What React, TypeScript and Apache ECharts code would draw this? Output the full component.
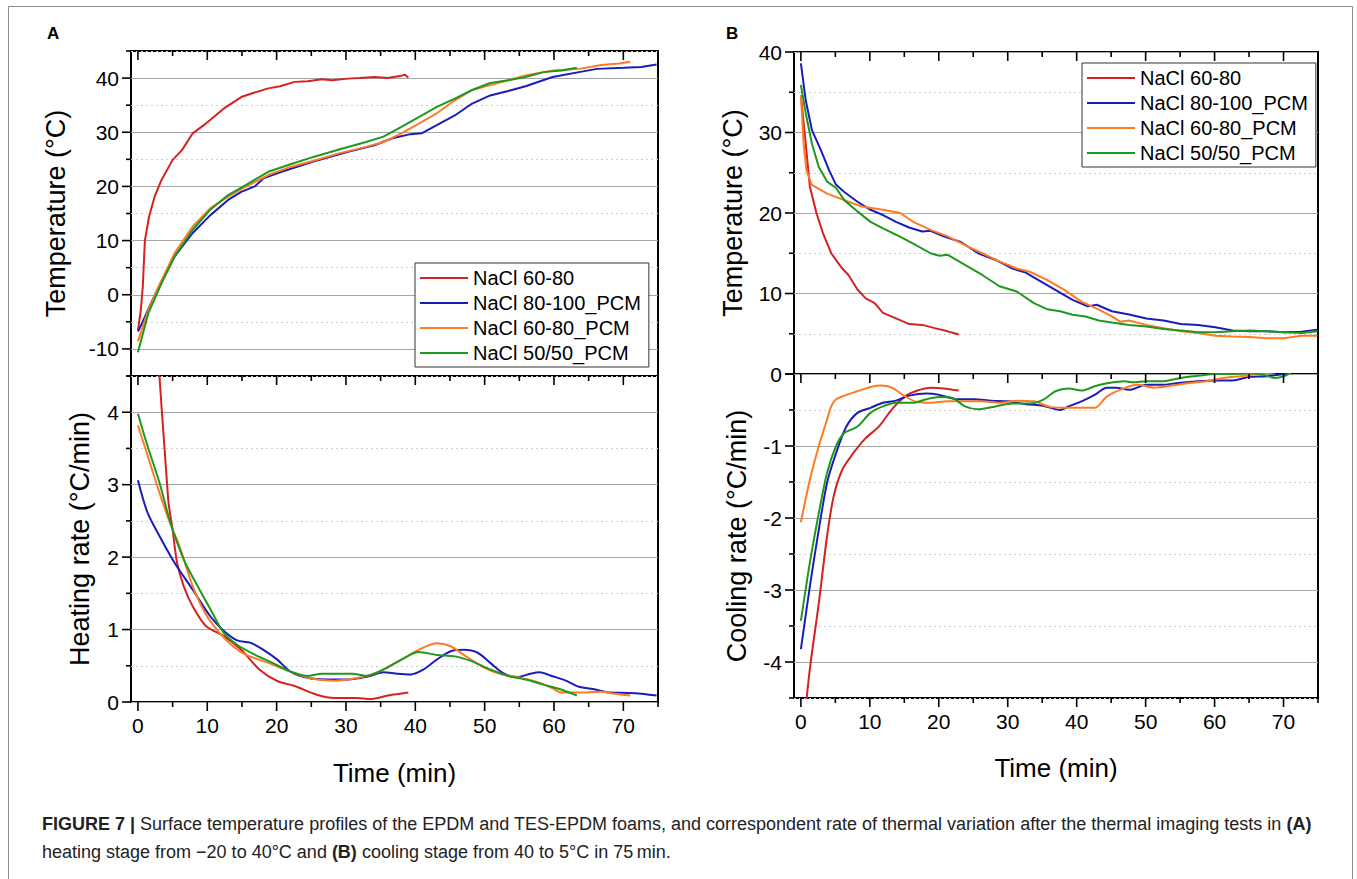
import React, { useEffect, useRef } from "react";
import * as echarts from "echarts";

const FONT = "Liberation Sans, Arial, Helvetica, sans-serif";

const NAMES = ["NaCl 60-80", "NaCl 80-100_PCM", "NaCl 60-80_PCM", "NaCl 50/50_PCM"];
const COLORS = ["#d42222", "#1c1cb8", "#ff7a22", "#1f981f"];

const X_MIN = -1;
const X_MAX = 75;
const X_TICKS = [0, 5, 10, 15, 20, 25, 30, 35, 40, 45, 50, 55, 60, 65, 70, 75];
const X_LABELS = [0, 10, 20, 30, 40, 50, 60, 70];

const A_TEMP_TICKS = [-15, -10, -5, 0, 5, 10, 15, 20, 25, 30, 35, 40, 45];
const A_RATE_TICKS = [0, 0.5, 1, 1.5, 2, 2.5, 3, 3.5, 4, 4.5];
const B_TEMP_TICKS = [0, 5, 10, 15, 20, 25, 30, 35, 40];
const B_RATE_TICKS = [-4.5, -4, -3.5, -3, -2.5, -2, -1.5, -1, -0.5, 0];

// Panel A – temperature (heating)
const A_TEMP_RED = [[0, -6.6], [0.4, -3], [0.7, 1.5], [1.0, 10], [1.6, 14.4], [2.4, 18.1], [3.4, 21.2], [5.0, 24.9], [6.35, 26.7], [7.9, 29.8], [9.8, 31.6], [12.4, 34.4], [14.9, 36.5], [16.5, 37.2], [18.8, 38.1], [20.5, 38.5], [22.6, 39.3], [24.5, 39.4], [26.5, 39.8], [28, 39.6], [30.3, 39.9], [32, 40.0], [34.1, 40.2], [36, 40.0], [38.0, 40.45], [38.5, 40.6], [39, 40.1]];
const A_TEMP_BLUE = [[0, -6.8], [0.5, -5.5], [1.8, -1.8], [3.4, 2.5], [5.3, 7.1], [7.9, 11.4], [10.45, 14.7], [13.0, 17.5], [14.9, 19.0], [16.85, 20.0], [18.1, 21.5], [20.7, 22.7], [25.2, 24.55], [30.3, 26.4], [34.1, 27.6], [36.7, 28.9], [39.3, 29.65], [40.9, 29.8], [43.1, 31.3], [45.7, 33.1], [48.2, 35.3], [50.8, 36.8], [53.4, 37.6], [55.9, 38.5], [59.8, 40.2], [63.6, 41.1], [66.2, 41.7], [70, 41.9], [72.6, 42.05], [74.8, 42.5]];
const A_TEMP_ORANGE = [[0, -8.6], [1.5, -2.8], [3.1, 1.8], [5.3, 7.7], [7.9, 12.6], [10.45, 16.0], [13, 18.1], [15.6, 20.0], [18.8, 22.1], [22, 23.6], [25.2, 24.7], [29, 26.1], [32.9, 27.3], [35.4, 28.2], [38, 29.8], [40.5, 31.6], [43.1, 33.5], [45.7, 35.9], [48.2, 37.8], [50.8, 38.7], [53.4, 39.6], [55.9, 40.5], [59.8, 41.4], [63.6, 41.7], [66.8, 42.4], [69.4, 42.7], [71, 43]];
const A_TEMP_GREEN = [[0, -10.6], [1.5, -3.4], [3.4, 2.1], [5.3, 7.1], [7.9, 12.0], [10.45, 15.7], [13, 18.4], [15.6, 20.3], [18.8, 22.7], [22, 24.1], [25.2, 25.4], [29, 26.8], [32.9, 28.2], [35.4, 29.2], [38, 31.0], [40.5, 32.8], [43.1, 34.7], [45.7, 36.2], [48.2, 37.8], [50.8, 39.1], [53.4, 39.6], [55.9, 40.2], [58.5, 41.1], [61.1, 41.4], [63.3, 41.9]];

// Panel A – heating rate
const A_RATE_RED = [[2.2, 5.8], [4.36, 2.8], [5.0, 2.38], [5.65, 1.92], [6.6, 1.6], [7.9, 1.32], [9.8, 1.05], [12.4, 0.91], [14.9, 0.72], [17.5, 0.45], [20.1, 0.29], [22.6, 0.22], [25.8, 0.10], [28.4, 0.055], [31.6, 0.055], [33.5, 0.04], [36.1, 0.09], [39, 0.13]];
const A_RATE_BLUE = [[0, 3.06], [1.4, 2.61], [3.4, 2.24], [5.3, 1.92], [7.9, 1.55], [10.45, 1.18], [12.4, 0.98], [14.3, 0.85], [16.2, 0.82], [18.1, 0.72], [20.1, 0.585], [22, 0.42], [24.6, 0.33], [27.2, 0.31], [30.3, 0.31], [33.5, 0.36], [35.4, 0.41], [37.4, 0.39], [39.3, 0.38], [41.2, 0.45], [43.1, 0.585], [45.1, 0.70], [47, 0.72], [49, 0.68], [50.8, 0.54], [52.8, 0.39], [54.7, 0.345], [56.6, 0.39], [57.9, 0.41], [59.8, 0.355], [61.7, 0.295], [63.6, 0.21], [65.6, 0.18], [68.1, 0.13], [70.7, 0.125], [72.6, 0.115], [74.8, 0.09]];
const A_RATE_ORANGE = [[0, 3.82], [1.4, 3.4], [3.1, 2.89], [4.7, 2.45], [6.0, 2.15], [7.9, 1.6], [9.8, 1.21], [11.8, 0.95], [13.7, 0.77], [15.6, 0.65], [18.8, 0.54], [22, 0.42], [25.2, 0.32], [28.4, 0.295], [31.6, 0.33], [34.8, 0.42], [38, 0.585], [40.5, 0.72], [43.1, 0.81], [45.1, 0.77], [47, 0.65], [49.6, 0.49], [52.2, 0.39], [54.7, 0.345], [57.3, 0.285], [59.8, 0.19], [61.1, 0.13], [63.6, 0.13], [66.8, 0.14], [68.7, 0.115], [71, 0.09]];
const A_RATE_GREEN = [[0, 3.98], [1.4, 3.53], [3.1, 3.03], [4.7, 2.47], [6.6, 1.97], [8.6, 1.6], [10.45, 1.28], [12.4, 0.95], [14.3, 0.79], [16.9, 0.65], [19.4, 0.54], [22, 0.42], [24.6, 0.36], [26.5, 0.39], [29, 0.39], [30.9, 0.39], [32.9, 0.36], [35.4, 0.45], [38, 0.585], [40.5, 0.69], [43.1, 0.65], [45.7, 0.63], [48.2, 0.56], [50.8, 0.45], [53.4, 0.36], [55.9, 0.31], [58.5, 0.24], [61.1, 0.17], [63.3, 0.09]];

// Panel B – temperature (cooling)
const B_TEMP_RED = [[0, 34.6], [0.7, 28.6], [1.3, 23.3], [2.25, 20.0], [3.2, 17.5], [4.4, 15.0], [6.0, 13.1], [6.9, 12.3], [8.2, 10.5], [9.4, 9.4], [10.7, 8.8], [11.9, 7.6], [13.8, 6.9], [15.7, 6.2], [17.6, 6.1], [19.4, 5.7], [21.3, 5.3], [22.9, 4.9]];
const B_TEMP_BLUE = [[0, 38.6], [0.7, 34.0], [1.6, 30.3], [2.9, 27.8], [4.1, 25.3], [5.1, 23.5], [6.3, 22.6], [8.2, 21.4], [10.1, 20.4], [11.9, 19.75], [13.8, 18.9], [15.7, 18.2], [17.6, 17.7], [18.8, 17.8], [20.7, 17.1], [23.2, 16.4], [25.7, 15.0], [28.2, 14.2], [30.7, 13.1], [32.6, 12.6], [34.4, 11.7], [36.9, 10.45], [39.4, 9.2], [41.6, 8.4], [42.9, 8.6], [45.1, 7.8], [47.6, 7.4], [50.1, 6.9], [52.6, 6.65], [55.1, 6.2], [57.6, 6.1], [60.1, 5.8], [62.6, 5.4], [65.1, 5.3], [67.6, 5.3], [70.1, 5.2], [72.6, 5.25], [74.9, 5.5]];
const B_TEMP_ORANGE = [[0, 34.6], [0.4, 28.6], [0.8, 25.3], [1.6, 23.5], [3.8, 22.4], [6.3, 21.6], [8.8, 20.8], [11.9, 20.4], [14.4, 20.0], [16.3, 18.9], [18.8, 17.9], [21.3, 17.1], [23.8, 16.0], [26.3, 15.0], [28.8, 14.0], [31.3, 13.1], [33.2, 12.7], [35.7, 11.7], [38.2, 10.45], [40.7, 9.0], [43.2, 8.0], [45.1, 7.15], [46.3, 6.5], [47.6, 6.65], [50.1, 6.1], [52.6, 5.7], [55.1, 5.3], [57.6, 5.1], [60.1, 4.75], [62.6, 4.65], [65.1, 4.6], [67.6, 4.45], [70.1, 4.45], [72.6, 4.75], [74.9, 4.75]];
const B_TEMP_GREEN = [[0, 35.9], [0.7, 32.4], [1.6, 28.6], [2.6, 25.7], [3.8, 23.9], [5.1, 23.1], [6.3, 21.6], [8.2, 20.2], [10.1, 18.9], [11.9, 18.1], [13.8, 17.3], [16.3, 16.2], [18.8, 15.0], [20.1, 14.7], [21.3, 14.8], [23.8, 13.55], [26.3, 12.3], [28.8, 10.9], [31.3, 10.25], [33.8, 8.8], [35.7, 8.05], [37.6, 7.8], [39.4, 7.35], [41.3, 7.15], [43.2, 6.65], [45.1, 6.4], [47.6, 6.1], [50.1, 5.9], [52.6, 5.6], [55.1, 5.4], [57.6, 5.2], [60.1, 5.2], [62.6, 5.3], [65.1, 5.4], [67.6, 5.3], [70.1, 5.2], [72.6, 5.1], [74.9, 5.3]];

// Panel B – cooling rate
const B_RATE_RED = [[0.3, -5.0], [1.3, -4.1], [2.6, -3.18], [3.8, -2.25], [4.75, -1.70], [6.0, -1.33], [7.6, -1.10], [9.4, -0.89], [11.3, -0.73], [13.2, -0.49], [15.1, -0.31], [16.9, -0.23], [18.8, -0.19], [20.7, -0.20], [22.9, -0.23]];
const B_RATE_BLUE = [[0, -3.82], [1.3, -2.95], [2.6, -2.16], [3.8, -1.51], [5.1, -1.10], [6.6, -0.73], [8.2, -0.54], [10.1, -0.47], [11.9, -0.40], [13.8, -0.37], [15.7, -0.30], [18.2, -0.27], [20.1, -0.29], [22.6, -0.35], [25.1, -0.35], [27.6, -0.37], [30.1, -0.38], [32.6, -0.42], [35.1, -0.44], [37.6, -0.50], [38.8, -0.45], [40.7, -0.38], [42.6, -0.29], [44.4, -0.19], [45.7, -0.19], [47.6, -0.22], [50.1, -0.15], [52.6, -0.15], [55.1, -0.12], [57.6, -0.10], [60.1, -0.09], [62.6, -0.09], [65.1, -0.04], [67.6, -0.03], [70.1, 0], [70.7, 0.01]];
const B_RATE_ORANGE = [[0, -2.06], [1.3, -1.47], [2.6, -1.0], [3.8, -0.63], [4.4, -0.45], [5.1, -0.35], [6.3, -0.30], [8.2, -0.24], [10.1, -0.18], [11.6, -0.16], [13.2, -0.19], [15.1, -0.31], [16.9, -0.39], [18.8, -0.40], [21.3, -0.38], [23.8, -0.38], [26.3, -0.38], [28.8, -0.40], [31.3, -0.37], [33.8, -0.38], [36.3, -0.46], [38.8, -0.47], [41.3, -0.47], [42.6, -0.47], [44.4, -0.31], [46.3, -0.22], [48.8, -0.15], [51.3, -0.19], [53.8, -0.16], [56.3, -0.125], [58.8, -0.10], [61.3, -0.055], [63.8, -0.03], [66.3, 0], [68.8, 0.02]];
const B_RATE_GREEN = [[0, -3.43], [1.3, -2.62], [2.6, -1.93], [3.8, -1.37], [5.1, -1.0], [6.3, -0.82], [8.2, -0.73], [10.1, -0.54], [11.9, -0.45], [13.8, -0.40], [16.3, -0.40], [18.2, -0.35], [20.1, -0.32], [21.9, -0.33], [23.8, -0.45], [25.7, -0.49], [28.2, -0.45], [30.7, -0.41], [33.2, -0.41], [35.1, -0.36], [36.9, -0.24], [38.8, -0.20], [40.7, -0.23], [42.6, -0.17], [44.4, -0.13], [46.9, -0.10], [48.2, -0.115], [50.1, -0.10], [52.6, -0.10], [55.1, -0.055], [57.6, -0.025], [60.1, 0], [62.6, 0], [65.1, 0.015], [67, -0.01], [68.8, -0.055], [70.1, -0.03], [71, 0.015]];

const A_TEMP = [A_TEMP_RED, A_TEMP_BLUE, A_TEMP_ORANGE, A_TEMP_GREEN];
const A_RATE = [A_RATE_RED, A_RATE_BLUE, A_RATE_ORANGE, A_RATE_GREEN];
const B_TEMP = [B_TEMP_RED, B_TEMP_BLUE, B_TEMP_ORANGE, B_TEMP_GREEN];
const B_RATE = [B_RATE_RED, B_RATE_BLUE, B_RATE_ORANGE, B_RATE_GREEN];

const CAPTION_1 = "{b|FIGURE 7 |} Surface temperature profiles of the EPDM and TES-EPDM foams, and correspondent rate of thermal variation after the thermal imaging tests in {b|(A)}";
const CAPTION_2 = "heating stage from \u221220 to 40\u00b0C and {b|(B)} cooling stage from 40 to 5\u00b0C in 75\u2009min.";

const MINOR_C = "#cdcdcd";
const MAJOR_C = "#a6a6a6";
const NONE = "rgba(0,0,0,0)";

function xAxis(gridIndex: number, withLabels: boolean, name?: string, nameGap?: number) {
  return {
    type: "value",
    gridIndex,
    position: "bottom",
    min: X_MIN,
    max: X_MAX,
    axisLine: { show: false, onZero: false },
    axisTick: { show: false },
    axisLabel: withLabels
      ? { show: true, customValues: X_LABELS, fontSize: 21, color: "#000", fontFamily: FONT, margin: 13 }
      : { show: false },
    splitLine: { show: false },
    name: name || "",
    nameLocation: "middle",
    nameGap: nameGap || 0,
    nameTextStyle: { fontSize: 26, color: "#000", fontFamily: FONT },
  };
}

function yAxisLeft(gridIndex: number, min: number, max: number, step: number, major: number, colors: string[], name: string, nameGap: number, hide: number[]) {
  return {
    type: "value",
    gridIndex,
    position: "left",
    min,
    max,
    interval: step,
    axisLine: { show: false, onZero: false },
    axisTick: { show: false },
    axisLabel: {
      show: true,
      fontSize: 21,
      color: "#000",
      fontFamily: FONT,
      margin: 12,
      formatter: (v: number) => {
        const r = v / major;
        if (Math.abs(r - Math.round(r)) > 1e-6) return "";
        if (hide.some((h) => Math.abs(h - v) < 1e-6)) return "";
        return String(Math.round(v));
      },
    },
    splitLine: { show: true, lineStyle: { color: colors, width: 1, type: [2, 3] } },
    name,
    nameLocation: "middle",
    nameRotate: 90,
    nameGap,
    nameTextStyle: { fontSize: 27, color: "#000", fontFamily: FONT },
  };
}

function yAxisMajor(gridIndex: number, min: number, max: number, step: number, colors: string[]) {
  return {
    type: "value",
    gridIndex,
    position: "right",
    min,
    max,
    interval: step,
    axisLine: { show: false },
    axisTick: { show: false },
    axisLabel: { show: false },
    splitLine: { show: true, lineStyle: { color: colors, width: 1.2, type: "solid" } },
  };
}

// Tick marks drawn through the axes' own scales (custom series)
function xTicks(xi: number, yi: number, yRef: number, edges: string[], majorStep: number) {
  return {
    type: "custom",
    xAxisIndex: xi,
    yAxisIndex: yi,
    silent: true,
    clip: false,
    z: 6,
    data: X_TICKS.map((v) => [v, yRef, v % majorStep === 0 ? 1 : 0]),
    encode: { x: 0, y: 1 },
    renderItem: (params: any, api: any) => {
      const cs = params.coordSys;
      const p = api.coord([api.value(0), api.value(1)]);
      const len = api.value(2) === 1 ? 9 : 5;
      const children: any[] = [];
      edges.forEach((e) => {
        let y1 = cs.y;
        let y2 = cs.y + len;
        if (e === "bottomOut") {
          y1 = cs.y + cs.height;
          y2 = y1 + len;
        }
        children.push({
          type: "line",
          shape: { x1: p[0], y1, x2: p[0], y2 },
          style: { stroke: "#000", lineWidth: 1.6 },
        });
      });
      return { type: "group", children };
    },
  };
}

function yTicks(xi: number, yi: number, ticks: number[], majorStep: number) {
  return {
    type: "custom",
    xAxisIndex: xi,
    yAxisIndex: yi,
    silent: true,
    clip: false,
    z: 6,
    data: ticks.map((v) => {
      const r = v / majorStep;
      return [X_MIN, v, Math.abs(r - Math.round(r)) < 1e-6 ? 1 : 0];
    }),
    encode: { x: 0, y: 1 },
    renderItem: (params: any, api: any) => {
      const cs = params.coordSys;
      const p = api.coord([api.value(0), api.value(1)]);
      const len = api.value(2) === 1 ? 9 : 5;
      return {
        type: "line",
        shape: { x1: cs.x - len, y1: p[1], x2: cs.x, y2: p[1] },
        style: { stroke: "#000", lineWidth: 1.6 },
      };
    },
  };
}

const gridBox = { show: true, borderColor: "#000", borderWidth: 2, backgroundColor: "rgba(0,0,0,0)" };

function buildOption() {
  const series: any[] = [];
  const add = (sets: number[][][], xi: number, yi: number, smooth: number) => {
    sets.forEach((d, i) => {
      series.push({
        type: "line",
        name: NAMES[i],
        xAxisIndex: xi,
        yAxisIndex: yi,
        data: d,
        showSymbol: false,
        symbol: "none",
        smooth,
        clip: true,
        lineStyle: { color: COLORS[i], width: 2 },
        itemStyle: { color: COLORS[i] },
        z: 3,
      });
    });
  };
  add(A_TEMP, 0, 0, 0);
  add(A_RATE, 1, 2, 0.3);
  add(B_TEMP, 2, 4, 0);
  add(B_RATE, 3, 6, 0.3);

  series.push(xTicks(0, 0, 0, ["top"], 10));
  series.push(xTicks(1, 2, 0, ["top", "bottomOut"], 10));
  series.push(xTicks(2, 4, 0, ["top"], 10));
  series.push(xTicks(3, 6, 0, ["top", "bottomOut"], 10));
  series.push(yTicks(0, 0, A_TEMP_TICKS, 10));
  series.push(yTicks(1, 2, A_RATE_TICKS, 1));
  series.push(yTicks(2, 4, B_TEMP_TICKS, 10));
  series.push(yTicks(3, 6, B_RATE_TICKS, 1));

  const legendBase = {
    orient: "vertical",
    data: NAMES,
    icon: "rect",
    itemWidth: 48,
    itemHeight: 2,
    itemGap: 5,
    borderColor: "#333",
    borderWidth: 1,
    backgroundColor: "#fff",
    padding: [5, 8, 4, 5],
    selectedMode: false,
    textStyle: { fontSize: 20, color: "#000", fontFamily: FONT, lineHeight: 20 },
  };

  return {
    animation: false,
    backgroundColor: "#fff",
    grid: [
      { ...gridBox, left: 131, top: 51, width: 527, height: 325 },
      { ...gridBox, left: 131, top: 376, width: 527, height: 326 },
      { ...gridBox, left: 794, top: 52, width: 524, height: 322 },
      { ...gridBox, left: 794, top: 374, width: 524, height: 324 },
    ],
    xAxis: [
      xAxis(0, false),
      xAxis(1, true, "Time (min)", 58),
      xAxis(2, false),
      xAxis(3, true, "Time (min)", 57),
    ],
    yAxis: [
      yAxisLeft(0, -15, 45, 5, 10, [MINOR_C, NONE], "Temperature (\u00b0C)", 62, []),
      yAxisMajor(0, -15, 45, 5, [NONE, MAJOR_C]),
      yAxisLeft(1, 0, 4.5, 0.5, 1, [NONE, MINOR_C], "Heating rate (\u00b0C/min)", 38, []),
      yAxisMajor(1, 0, 4.5, 0.5, [MAJOR_C, NONE]),
      yAxisLeft(2, 0, 40, 5, 10, [NONE, MINOR_C], "Temperature (\u00b0C)", 48, []),
      yAxisMajor(2, 0, 40, 5, [MAJOR_C, NONE]),
      yAxisLeft(3, -4.5, 0, 0.5, 1, [MINOR_C, NONE], "Cooling rate (\u00b0C/min)", 44, [0]),
      yAxisMajor(3, -4.5, 0, 0.5, [NONE, MAJOR_C]),
    ],
    legend: [
      { ...legendBase, left: 415, top: 263 },
      { ...legendBase, left: 1082, top: 63 },
    ],
    series,
    graphic: [
      {
        type: "rect",
        shape: { x: 8.5, y: 6.5, width: 1344, height: 900 },
        style: { fill: "none", stroke: "#8c8c8c", lineWidth: 1 },
        silent: true,
        z: -10,
      },
      {
        type: "text",
        x: 47,
        y: 33,
        style: { text: "A", fontSize: 17, fontWeight: "bold", fontFamily: FONT, fill: "#000", verticalAlign: "middle" },
      },
      {
        type: "text",
        x: 726,
        y: 33,
        style: { text: "B", fontSize: 17, fontWeight: "bold", fontFamily: FONT, fill: "#000", verticalAlign: "middle" },
      },
      {
        type: "text",
        x: 42,
        y: 824,
        style: {
          text: CAPTION_1,
          fontSize: 18,
          fontFamily: FONT,
          fill: "#222",
          verticalAlign: "middle",
          rich: { b: { fontWeight: "bold", fontSize: 18, fontFamily: FONT, fill: "#222" } },
        },
      },
      {
        type: "text",
        x: 42,
        y: 852,
        style: {
          text: CAPTION_2,
          fontSize: 18,
          fontFamily: FONT,
          fill: "#222",
          verticalAlign: "middle",
          rich: { b: { fontWeight: "bold", fontSize: 18, fontFamily: FONT, fill: "#222" } },
        },
      },
    ],
  };
}

export default function App() {
  const ref = useRef<HTMLDivElement>(null);
  useEffect(() => {
    if (!ref.current) return;
    const chart = echarts.init(ref.current, null, { renderer: "svg" });
    chart.setOption(buildOption() as any);
    return () => chart.dispose();
  }, []);
  return (
    <div
      ref={ref}
      style={{ position: "absolute", left: 0, top: 0, width: 1357, height: 879, background: "#fff" }}
    />
  );
}
